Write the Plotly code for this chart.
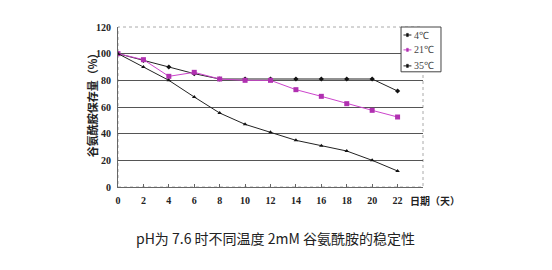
import plotly.graph_objects as go

days = [0, 2, 4, 6, 8, 10, 12, 14, 16, 18, 20, 22]
t4 = [100, 95, 90, 85, 81, 81, 81, 81, 81, 81, 81, 72]
t21 = [100, 95.5, 83, 86, 81, 80, 80, 73, 68, 62.5, 57.5, 52.5]
t35 = [100, 90, 80, 67.5, 55.5, 47, 41, 35, 31, 27, 20, 12]
names = ["4℃", "21℃", "35℃"]
x_ticks = [0, 2, 4, 6, 8, 10, 12, 14, 16, 18, 20, 22]
y_ticks = [0, 20, 40, 60, 80, 100, 120]

line_colors = ["#222222", "#cc44cc", "#222222"]
marker_colors = ["#111111", "#b030b0", "#111111"]
symbols = ["diamond", "square", "triangle-up"]
msizes = [4, 5, 4]

fig = go.Figure()
for vals, nm, lc, mc, sym, ms in zip([t4, t21, t35], names, line_colors, marker_colors, symbols, msizes):
    fig.add_trace(go.Scatter(x=days, y=vals, name=nm, mode="lines+markers",
                             line=dict(color=lc, width=1),
                             marker=dict(symbol=sym, size=ms, color=mc),
                             showlegend=False))

# compact legend box (drawn in paper coordinates)
shapes = [
    dict(type="rect", xref="paper", yref="paper", x0=0, x1=1, y0=0, y1=1,
         line=dict(color="#aaaaaa", width=1, dash="dot"), layer="below"),
    dict(type="rect", xref="paper", yref="paper", x0=0.928, x1=1.059, y0=0.72, y1=1.0,
         line=dict(color="#444444", width=1), fillcolor="white", layer="above"),
]
annotations = []
leg_y = [0.95, 0.857, 0.757]
for ly, nm, lc, mc in zip(leg_y, names, line_colors, marker_colors):
    shapes.append(dict(type="line", xref="paper", yref="paper", x0=0.936, x1=0.962,
                       y0=ly, y1=ly, line=dict(color=lc, width=1), layer="above"))
    shapes.append(dict(type="rect", xref="paper", yref="paper", x0=0.946, x1=0.952,
                       y0=ly - 0.01, y1=ly + 0.01, line=dict(color=mc, width=0.5),
                       fillcolor=mc, layer="above"))
    annotations.append(dict(text=nm, xref="paper", yref="paper", x=0.964, y=ly,
                            showarrow=False, xanchor="left", yanchor="middle",
                            font=dict(family="Liberation Serif", size=10, color="#444444")))

annotations += [
    dict(text="<b>谷氨酰胺保存量（%）</b>", xref="paper", yref="paper",
         x=-0.085, y=0.53, textangle=-90, showarrow=False,
         font=dict(family="Noto Sans CJK SC", size=11, color="#222222"),
         xanchor="center", yanchor="middle"),
    dict(text="<b>日期（天）</b>", xref="paper", yref="paper",
         x=0.951, y=-0.085, showarrow=False, xanchor="left", yanchor="middle",
         font=dict(family="Noto Sans CJK SC", size=10, color="#222222")),
    dict(text="pH为 7.6 时不同温度 2mM 谷氨酰胺的稳定性", xref="paper", yref="paper",
         x=0.515, y=-0.32, showarrow=False, xanchor="center", yanchor="middle",
         font=dict(family="Noto Sans CJK SC", size=14, color="#222222")),
]

fig.update_layout(
    width=552, height=270,
    margin=dict(l=118, r=129, t=27, b=83),
    paper_bgcolor="white", plot_bgcolor="white",
    showlegend=False,
    xaxis=dict(range=[0, 24], tickvals=x_ticks, showgrid=False,
               ticks="inside", ticklen=3, tickcolor="#666666",
               showline=True, linecolor="#666666", linewidth=1,
               tickfont=dict(family="Liberation Serif", size=10, color="#222222", weight="bold"),
               ticklabelstandoff=4, zeroline=False),
    yaxis=dict(range=[0, 120], tickvals=y_ticks, showgrid=True,
               gridcolor="#555555", gridwidth=1,
               ticks="", showline=True, linecolor="#666666", linewidth=1,
               tickfont=dict(family="Liberation Serif", size=10, color="#222222", weight="bold"),
               ticklabelstandoff=4, zeroline=False),
    shapes=shapes,
    annotations=annotations,
)
fig.write_html("out.html")
